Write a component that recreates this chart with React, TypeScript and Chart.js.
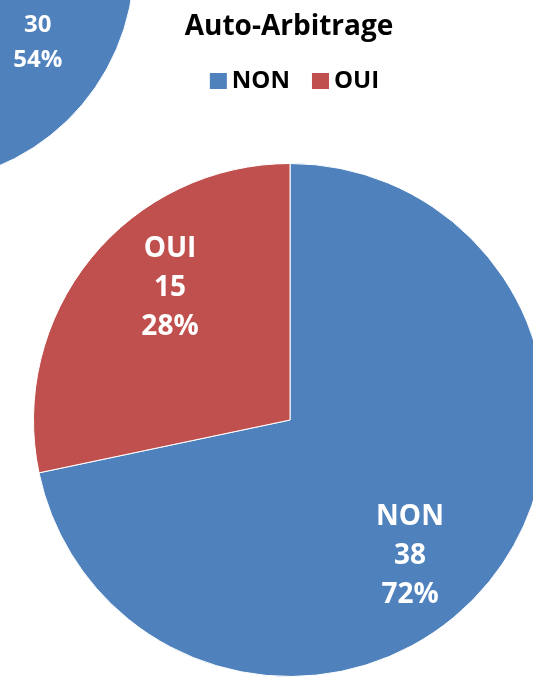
import React, { useEffect, useRef } from "react";
import { Chart, registerables } from "chart.js";

Chart.register(...registerables);

const categories = ["NON", "OUI"];
const mainValues = [38, 15];
const sideValues = [30, 26];
const sliceColors = ["#4F81BD", "#C0504D"];
const chartTitle = "Auto-Arbitrage";

const FONT = "'Open Sans', 'Noto Sans', sans-serif";

const pieLabels: any = {
  id: "pieLabels",
  afterDatasetsDraw(chart: any, _args: any, opts: any) {
    if (!opts || !opts.show) return;
    const ctx = chart.ctx;
    const vals = chart.data.datasets[0].data as number[];
    const total = vals.reduce((a: number, b: number) => a + b, 0);
    const meta = chart.getDatasetMeta(0);
    ctx.save();
    ctx.fillStyle = "#ffffff";
    ctx.font = `bold ${opts.size}px ${FONT}`;
    ctx.textAlign = "center";
    ctx.textBaseline = "alphabetic";
    meta.data.forEach((arc: any, i: number) => {
      const p = arc.getProps(["x", "y", "startAngle", "endAngle", "outerRadius"], true);
      const mid = (p.startAngle + p.endAngle) / 2 + (opts.angleOffset * Math.PI) / 180;
      const cx = p.x + Math.cos(mid) * p.outerRadius * opts.radius;
      const cy = p.y + Math.sin(mid) * p.outerRadius * opts.radius;
      const lines = [
        String(chart.data.labels[i]),
        String(vals[i]),
        Math.round((vals[i] / total) * 100) + "%",
      ];
      lines.forEach((t, k) => {
        const yc = cy + (k - (lines.length - 1) / 2) * opts.lineHeight;
        ctx.fillText(t, cx, yc + opts.size * 0.357);
      });
    });
    ctx.restore();
  },
};

const header: any = {
  id: "header",
  afterDraw(chart: any, _args: any, opts: any) {
    if (!opts || !opts.show) return;
    const ctx = chart.ctx;
    ctx.save();
    ctx.fillStyle = "#000000";
    ctx.textAlign = "center";
    ctx.textBaseline = "alphabetic";
    ctx.font = `bold 28px ${FONT}`;
    ctx.fillText(opts.text, opts.titleCenterX, opts.titleBaseline);

    ctx.font = `bold 24px ${FONT}`;
    const labels = chart.data.labels as string[];
    const bg = chart.data.datasets[0].backgroundColor as string[];
    const box = 17;
    const boxH = 16;
    const gap = 5;
    const itemGap = 22;
    const widths = labels.map((l) => ctx.measureText(l).width);
    const total =
      widths.reduce((s: number, w: number) => s + box + gap + w, 0) + itemGap * (labels.length - 1);
    let x = opts.legendCenterX - total / 2;
    ctx.textAlign = "left";
    labels.forEach((l, i) => {
      ctx.fillStyle = bg[i];
      ctx.fillRect(x, opts.legendBoxTop, box, boxH);
      x += box + gap;
      ctx.fillStyle = "#000000";
      ctx.fillText(l, x, opts.legendBaseline);
      x += widths[i] + itemGap;
    });
    ctx.restore();
  },
};

export default function App() {
  const mainRef = useRef<HTMLCanvasElement | null>(null);
  const sideRef = useRef<HTMLCanvasElement | null>(null);

  useEffect(() => {
    const side = new Chart(sideRef.current as HTMLCanvasElement, {
      type: "pie",
      data: {
        labels: categories,
        datasets: [
          {
            data: sideValues,
            backgroundColor: sliceColors,
            borderColor: "#ffffff",
            borderWidth: 1,
          },
        ],
      },
      options: {
        responsive: false,
        animation: false,
        devicePixelRatio: 1,
        events: [],
        layout: { padding: 0 },
        plugins: {
          legend: { display: false },
          title: { display: false },
          tooltip: { enabled: false },
          pieLabels: { show: true, radius: 0.63, angleOffset: 20, size: 24, lineHeight: 35 },
        } as any,
      },
      plugins: [pieLabels],
    });

    const main = new Chart(mainRef.current as HTMLCanvasElement, {
      type: "pie",
      data: {
        labels: categories,
        datasets: [
          {
            data: mainValues,
            backgroundColor: sliceColors,
            borderColor: "#ffffff",
            borderWidth: 1,
          },
        ],
      },
      options: {
        responsive: false,
        animation: false,
        devicePixelRatio: 1,
        events: [],
        layout: { padding: { left: 33, top: 163, right: 13, bottom: 0 } },
        plugins: {
          legend: { display: false },
          title: { display: false },
          tooltip: { enabled: false },
          pieLabels: { show: true, radius: 0.7, angleOffset: 9, size: 28, lineHeight: 39 },
          header: {
            show: true,
            text: chartTitle,
            titleCenterX: 289,
            titleBaseline: 35,
            legendCenterX: 294.5,
            legendBoxTop: 73,
            legendBaseline: 88,
          },
        } as any,
      },
      plugins: [pieLabels, header],
    });

    return () => {
      side.destroy();
      main.destroy();
    };
  }, []);

  return (
    <div
      style={{
        position: "fixed",
        left: 0,
        top: 0,
        width: 533,
        height: 677,
        overflow: "hidden",
        background: "#ffffff",
      }}
    >
      <canvas
        ref={sideRef}
        width={445}
        height={445}
        style={{ position: "absolute", left: -310, top: -261, width: 445, height: 445, display: "block" }}
      />
      <canvas
        ref={mainRef}
        width={560}
        height={677}
        style={{ position: "absolute", left: 0, top: 0, width: 560, height: 677, display: "block" }}
      />
    </div>
  );
}
